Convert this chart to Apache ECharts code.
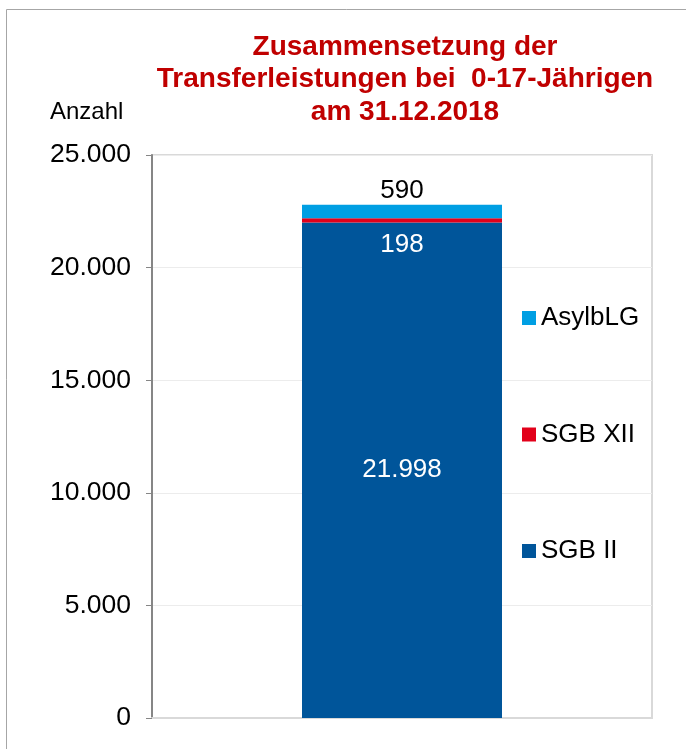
<!DOCTYPE html>
<html>
<head>
<meta charset="utf-8">
<script src="https://cdn.jsdelivr.net/npm/echarts@6/dist/echarts.min.js"></script>
<style>
  html, body { margin: 0; padding: 0; background: #fff; }
  #chart { width: 686px; height: 749px; }
</style>
</head>
<body>
<div id="chart"></div>
<script>
// Transfer benefits for children aged 0-17, 31.12.2018
const categories = ['31.12.2018'];
const sgbII = [21998];
const sgbXII = [198];
const asylbLG = [590];
const yTicks = { min: 0, max: 25000, interval: 5000 };

const FONT = '"Liberation Sans", Arial, sans-serif';

// German number format: thousands separated by a dot
function fmt(v) {
  return String(Math.round(v)).replace(/\B(?=(\d{3})+(?!\d))/g, '.');
}

const chart = echarts.init(document.getElementById('chart'), null, { renderer: 'canvas' });

chart.setOption({
  backgroundColor: '#ffffff',
  animation: false,
  textStyle: { fontFamily: FONT },
  title: {
    text: 'Zusammensetzung der\nTransferleistungen bei  0-17-Jährigen\nam 31.12.2018',
    left: 400,
    top: 26,
    textAlign: 'center',
    textStyle: {
      fontFamily: FONT,
      fontSize: 28,
      fontWeight: 'bold',
      color: '#c00000',
      lineHeight: 32.5
    }
  },
  graphic: [
    {
      type: 'rect',
      silent: true,
      shape: { x: 6.5, y: 9.5, width: 700, height: 760 },
      style: { fill: 'none', stroke: '#a6a6a6', lineWidth: 1 }
    },
    {
      type: 'text',
      left: 50,
      top: 100,
      style: { text: 'Anzahl', fontFamily: FONT, fontSize: 24, fill: '#000' }
    }
  ],
  legend: {
    orient: 'vertical',
    left: 522,
    top: 305,
    padding: 0,
    itemWidth: 14,
    itemHeight: 14,
    itemGap: 90.5,
    icon: 'rect',
    data: ['AsylbLG', 'SGB XII', 'SGB II'],
    textStyle: { fontFamily: FONT, fontSize: 26, color: '#000' }
  },
  grid: {
    left: 152,
    right: 34,
    top: 155,
    bottom: 31,
    show: true,
    borderColor: '#d9d9d9',
    borderWidth: 2,
    containLabel: false
  },
  xAxis: {
    type: 'category',
    data: categories,
    axisLine: { show: true, lineStyle: { color: '#d9d9d9', width: 2 } },
    axisTick: { show: false },
    axisLabel: { show: false }
  },
  yAxis: {
    type: 'value',
    min: yTicks.min,
    max: yTicks.max,
    interval: yTicks.interval,
    axisLine: { show: true, lineStyle: { color: '#868686', width: 2 } },
    axisTick: { show: true, length: 6, lineStyle: { color: '#868686' } },
    splitLine: { show: true, lineStyle: { color: '#ececec', width: 1 } },
    axisLabel: {
      fontFamily: FONT,
      fontSize: 26.5,
      color: '#000',
      margin: 21,
      formatter: fmt
    }
  },
  series: [
    {
      name: 'SGB II',
      type: 'bar',
      stack: 'total',
      barWidth: 200,
      data: sgbII,
      itemStyle: { color: '#00559a' },
      label: {
        show: true,
        position: 'inside',
        fontFamily: FONT,
        fontSize: 26,
        color: '#ffffff',
        formatter: p => fmt(p.value)
      }
    },
    {
      name: 'SGB XII',
      type: 'bar',
      stack: 'total',
      barWidth: 200,
      data: sgbXII,
      itemStyle: { color: '#e2001a' },
      label: {
        show: true,
        position: 'bottom',
        distance: 9,
        fontFamily: FONT,
        fontSize: 26,
        color: '#ffffff',
        formatter: p => fmt(p.value)
      }
    },
    {
      name: 'AsylbLG',
      type: 'bar',
      stack: 'total',
      barWidth: 200,
      data: asylbLG,
      itemStyle: { color: '#009fe3' },
      label: {
        show: true,
        position: 'top',
        distance: 1,
        fontFamily: FONT,
        fontSize: 26,
        color: '#000000',
        formatter: p => fmt(p.value)
      }
    }
  ]
});
</script>
</body>
</html>
